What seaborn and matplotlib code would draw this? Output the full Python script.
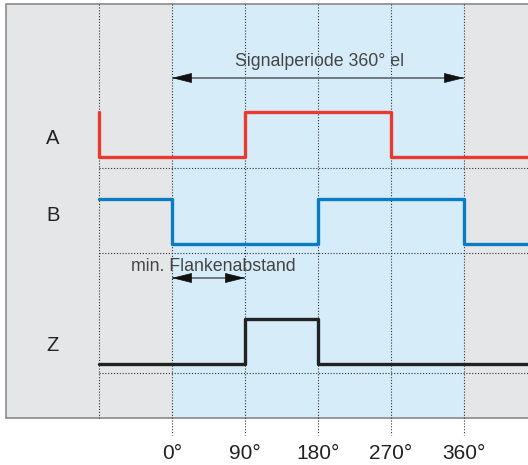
import numpy as np
import pandas as pd
import matplotlib.pyplot as plt
import seaborn as sns
from matplotlib.patches import Rectangle

# --- data: electrical angle of each edge and logic state after it ---
grid_phase = [-90, 0, 90, 180, 270, 360]
tick_phase = [0, 90, 180, 270, 360]
tick_labels = ["0°", "90°", "180°", "270°", "360°"]

a_phase = [-90, -90, 90, 270, 450]
a_state = [1, 0, 1, 0, 0]
b_phase = [-90, 0, 180, 360, 450]
b_state = [1, 0, 1, 0, 0]
z_phase = [-90, 90, 180, 450]
z_state = [0, 1, 0, 0]

channel_names = ["A", "B", "Z"]
channel_colors = ["#ea3a30", "#0a7cc4", "#222222"]

period_label = "Signalperiode 360° el"
period_span = (0, 360)
edge_label = "min. Flankenabstand"
edge_span = (0, 90)

# --- layout (figure pixels -> degrees on x, pixels on y) ---
PX_DEG = 90 / 73.0
X0_PX = 172


def px2deg(px):
    return (px - X0_PX) * PX_DEG


base_y = [157, 244, 364]   # low level of each track
amp = 45                   # pulse height
label_y = [138, 215, 345]
sep_y = [168, 253, 373]

sns.set_style("white")
plt.rcParams["font.family"] = ["Liberation Sans", "DejaVu Sans"]

fig = plt.figure(figsize=(5.28, 4.65), dpi=100)
ax = fig.add_axes([0, 0, 1, 1])
ax.set_xlim(px2deg(0), px2deg(528))
ax.set_ylim(465, 0)
ax.axis("off")

left = px2deg(6)
right = px2deg(530)
top, bottom = 4, 418

# panels
ax.add_patch(Rectangle((left, top), right - left, bottom - top,
                       facecolor="#e5e6e8", edgecolor="none", zorder=0))
ax.add_patch(Rectangle((period_span[0], top), period_span[1] - period_span[0],
                       bottom - top, facecolor="#d6ecf9", edgecolor="none", zorder=0.5))
ax.plot([right, left, left, right], [top, top, bottom, bottom],
        color="#8a8a8a", lw=1.2, zorder=1, solid_joinstyle="miter")

# dotted guides
dots = (0, (1, 1.6))
for p in grid_phase:
    y_end = bottom if p < 0 else 435
    ax.plot([p, p], [top, y_end], color="#333333", lw=0.8, ls=dots, zorder=2)
for y in sep_y:
    ax.plot([-90, right], [y, y], color="#333333", lw=0.8, ls=dots, zorder=2)

# signals
signals = [(a_phase, a_state), (b_phase, b_state), (z_phase, z_state)]
for (ph, st), base, col, name, ly in zip(signals, base_y, channel_colors,
                                         channel_names, label_y):
    df = pd.DataFrame({"phase": ph, "level": [base - amp * s for s in st]})
    sns.lineplot(data=df, x="phase", y="level", estimator=None, sort=False,
                 drawstyle="steps-post", color=col, lw=2.4, ax=ax, zorder=3)
    ax.text(px2deg(53), ly, name, fontsize=14.5, color="#222222",
            ha="center", va="center")


# dimension arrows: grey shaft, black heads
def dim_arrow(x0, x1, y):
    ax.plot([x0, x1], [y, y], color="#6f7a80", lw=1.4, zorder=4,
            solid_capstyle="butt")
    head = dict(arrowstyle="-|>,head_length=1.0,head_width=0.25",
                color="#111111", lw=0.5, mutation_scale=13,
                shrinkA=0, shrinkB=0)
    d = 2.0
    ax.annotate("", xy=(x0, y), xytext=(x0 + d, y), arrowprops=head, zorder=5)
    ax.annotate("", xy=(x1, y), xytext=(x1 - d, y), arrowprops=head, zorder=5)


dim_arrow(period_span[0], period_span[1], 78)
ax.text(px2deg(320), 62, period_label, fontsize=12.8, color="#444444",
        ha="center", va="center", zorder=4)
dim_arrow(edge_span[0], edge_span[1], 278)
ax.text(px2deg(213), 266, edge_label, fontsize=12.8, color="#444444",
        ha="center", va="center", zorder=4)

# angle ticks
for p, lab in zip(tick_phase, tick_labels):
    ax.text(p, 453, lab, fontsize=15, color="#222222", ha="center", va="center")

fig.savefig("out.png", dpi=100)
